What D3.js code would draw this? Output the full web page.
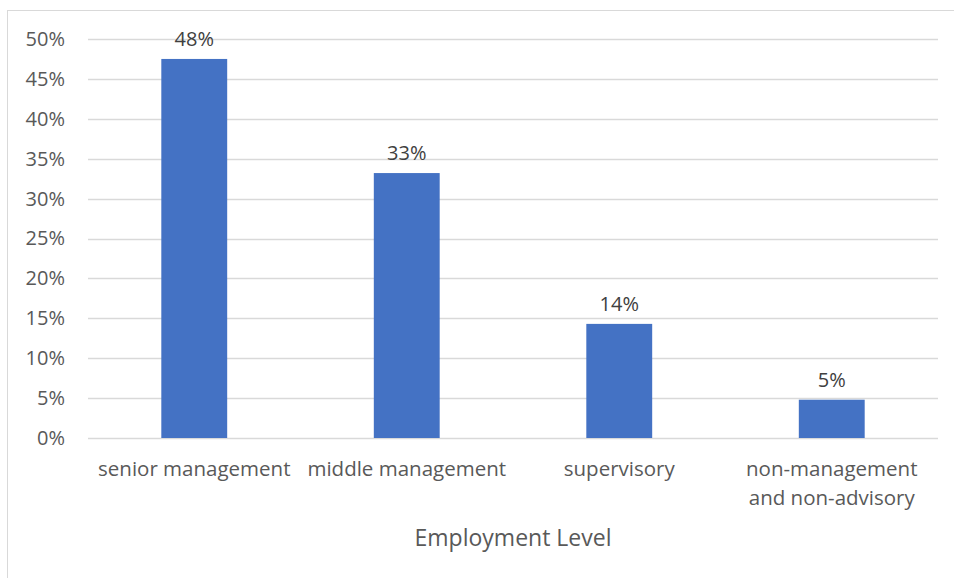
<!DOCTYPE html>
<html lang="en">
<head>
<meta charset="utf-8">
<script src="https://d3js.org/d3.v7.min.js"></script>
<style>
  body { margin: 0; background: #fff; }
  text { font-family: "Open Sans", "Noto Sans", sans-serif; fill: #595959; }
</style>
</head>
<body>
<script>
var categories = ["senior management", "middle management", "supervisory", "non-management and non-advisory"];
var values = [0.475, 0.332, 0.143, 0.048];
var labels = ["48%", "33%", "14%", "5%"];
var yTicks = [0, 0.05, 0.10, 0.15, 0.20, 0.25, 0.30, 0.35, 0.40, 0.45, 0.50];

var width = 954, height = 578;
var margin = {top: 39, right: 16, bottom: 140, left: 88};

var svg = d3.select("body").append("svg")
    .attr("width", width)
    .attr("height", height);

// chart frame
svg.append("rect")
    .attr("x", 7.5).attr("y", 10.5)
    .attr("width", width + 10).attr("height", height + 10)
    .attr("fill", "none")
    .attr("stroke", "#d9d9d9");

var x = d3.scaleBand()
    .domain(categories)
    .range([margin.left, width - margin.right])
    .paddingInner(0.69)
    .paddingOuter(0.345);

var y = d3.scaleLinear()
    .domain([0, 0.5])
    .range([height - margin.bottom, margin.top]);

// gridlines
svg.append("g")
    .selectAll("line")
    .data(yTicks)
    .enter().append("line")
    .attr("x1", margin.left)
    .attr("x2", width - margin.right)
    .attr("y1", function(d) { return Math.round(y(d)) + 0.5; })
    .attr("y2", function(d) { return Math.round(y(d)) + 0.5; })
    .attr("stroke", "#d9d9d9")
    .attr("stroke-width", 1.3);

// y axis labels
var yAxis = d3.axisLeft(y)
    .tickValues(yTicks)
    .tickFormat(d3.format(".0%"))
    .tickSize(0)
    .tickPadding(23);
var gy = svg.append("g")
    .attr("transform", "translate(" + margin.left + ",0)")
    .call(yAxis);
gy.select(".domain").remove();
gy.selectAll("text")
    .attr("font-size", 20)
    .style("font-family", "'Open Sans', 'Noto Sans', sans-serif")
    .attr("fill", "#595959");

// bars
svg.append("g")
    .selectAll("rect")
    .data(categories)
    .enter().append("rect")
    .attr("x", function(d) { return x(d); })
    .attr("y", function(d, i) { return y(values[i]); })
    .attr("width", x.bandwidth())
    .attr("height", function(d, i) { return y(0) - y(values[i]); })
    .attr("fill", "#4472c4");

// data labels
svg.append("g")
    .selectAll("text")
    .data(categories)
    .enter().append("text")
    .attr("x", function(d) { return x(d) + x.bandwidth() / 2; })
    .attr("y", function(d, i) { return y(values[i]) - 13; })
    .attr("text-anchor", "middle")
    .attr("font-size", 20)
    .style("fill", "#404040")
    .text(function(d, i) { return labels[i]; });

// category labels
var catLines = {
  "non-management and non-advisory": ["non-management", "and non-advisory"]
};
var gx = svg.append("g");
categories.forEach(function(c) {
  var lines = catLines[c] || [c];
  var t = gx.append("text")
      .attr("x", x(c) + x.bandwidth() / 2)
      .attr("y", y(0) + 38)
      .attr("text-anchor", "middle")
      .attr("font-size", 20.5);
  lines.forEach(function(l, i) {
    t.append("tspan")
        .attr("x", x(c) + x.bandwidth() / 2)
        .attr("dy", i === 0 ? 0 : 29)
        .text(l);
  });
});

// axis title
svg.append("text")
    .attr("x", (margin.left + width - margin.right) / 2)
    .attr("y", 546)
    .attr("text-anchor", "middle")
    .attr("font-size", 23)
    .text("Employment Level");
</script>
</body>
</html>
